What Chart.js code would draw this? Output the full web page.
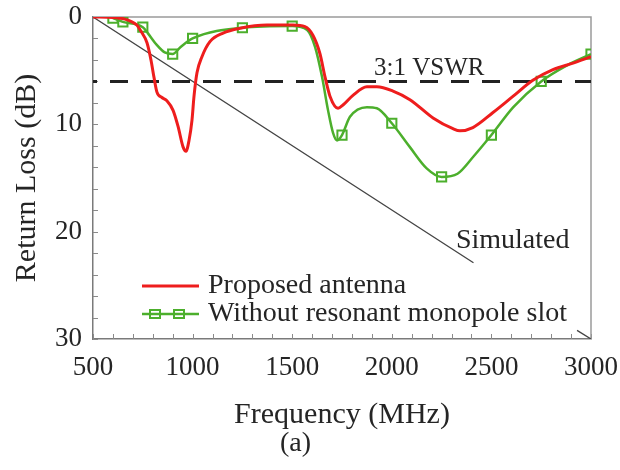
<!DOCTYPE html>
<html>
<head>
<meta charset="utf-8">
<script src="https://cdn.jsdelivr.net/npm/chart.js@4.4.1/dist/chart.umd.min.js"></script>
<style>
  html, body { margin: 0; padding: 0; background: #fff; }
  canvas { display: block; }
</style>
</head>
<body>
<canvas id="chart" width="620" height="470"></canvas>
<script>
// Data (frequency in MHz, return loss in dB)
const proposedFreq = [500, 600, 660, 690, 720, 740, 771, 791, 806, 821, 846, 871, 902, 927, 952, 967, 982, 997, 1007, 1022, 1047, 1087, 1153, 1238, 1373, 1504, 1564, 1604, 1639, 1665, 1690, 1730, 1755, 1805, 1875, 1925, 2006, 2091, 2207, 2307, 2342, 2407, 2508, 2608, 2708, 2809, 2910, 3000];
const proposedLoss = [0, 0.05, 0.2, 0.4, 0.75, 1.3, 2.4, 4.0, 5.6, 7.0, 7.5, 7.8, 8.7, 10.2, 12.1, 12.5, 11.5, 9.6, 7.4, 5.2, 3.7, 2.3, 1.5, 1.05, 0.75, 0.75, 0.9, 1.7, 3.4, 5.6, 7.4, 8.5, 8.2, 7.3, 6.5, 6.5, 6.9, 7.7, 9.4, 10.4, 10.6, 10.3, 8.9, 7.4, 5.9, 4.9, 4.3, 3.7];

const noSlotFreq = [600, 650, 750, 775, 820, 860, 900, 940, 1000, 1250, 1500, 1575, 1615, 1650, 1680, 1705, 1725, 1750, 1790, 1875, 1925, 2000, 2090, 2175, 2250, 2330, 2410, 2500, 2610, 2750, 2880, 3000];
const noSlotLoss = [0.1, 0.45, 0.95, 1.5, 2.6, 3.3, 3.45, 2.8, 2.0, 1.0, 0.85, 1.2, 2.8, 5.6, 8.7, 10.8, 11.5, 11.0, 9.3, 8.4, 8.5, 9.9, 12.1, 14.1, 14.9, 14.6, 13.0, 11.0, 8.4, 6.0, 4.5, 3.45];
const noSlotMarkerFreq = [600, 650, 750, 900, 1000, 1250, 1500, 1750, 2000, 2250, 2500, 2750, 3000];

// simulated reference line, partly hidden behind the legend
const simFreq = [500, 2410, 2670, 2930, 3000];
const simLoss = [0, 22.9, null, 29.2, 30];

const vswrFreq = [500, 3000];
const vswrLoss = [6, 6];

const xTickLabels = [500, 1000, 1500, 2000, 2500, 3000];
const yTickLabels = [0, 10, 20, 30];

const RED = '#ee1d1d';
const GREEN = '#4caf2c';
const INK = '#252525';
const FONT = '"Liberation Serif", "Times New Roman", serif';

const pts = (xs, ys) => xs.map((x, i) => ({ x: x, y: ys[i] }));

// Frame, inward ticks, labels and legend
const figurePlugin = {
    id: 'figure',
    beforeDatasetsDraw(chart) {
        const { ctx, chartArea: a, scales: { x, y } } = chart;
        ctx.save();
        ctx.strokeStyle = '#8a8a8a';
        ctx.lineWidth = 1;
        x.ticks.forEach(t => {
            const px = Math.round(x.getPixelForValue(t.value)) + 0.5;
            ctx.beginPath();
            ctx.moveTo(px, a.bottom);
            ctx.lineTo(px, a.bottom - 5);
            ctx.stroke();
        });
        y.ticks.forEach(t => {
            const py = Math.round(y.getPixelForValue(t.value)) + 0.5;
            ctx.beginPath();
            ctx.moveTo(a.left, py);
            ctx.lineTo(a.left + 5, py);
            ctx.stroke();
        });
        ctx.strokeStyle = '#9a9a9a';
        ctx.lineWidth = 1.5;
        ctx.beginPath();
        ctx.moveTo(a.left, a.top);
        ctx.lineTo(a.right, a.top);
        ctx.lineTo(a.right, a.bottom);
        ctx.stroke();
        ctx.restore();
    },
    afterDatasetsDraw(chart) {
        const { ctx, chartArea: a, scales: { x, y } } = chart;
        ctx.save();
        ctx.fillStyle = INK;
        ctx.textBaseline = 'middle';
        ctx.textAlign = 'left';

        ctx.font = '25px ' + FONT;
        ctx.fillText('3:1 VSWR', x.getPixelForValue(1911), y.getPixelForValue(4.75));
        ctx.font = '28px ' + FONT;
        ctx.fillText('Simulated', x.getPixelForValue(2322), y.getPixelForValue(20.8));

        // legend
        const lx0 = a.left + 49, lx1 = a.left + 106, tx = a.left + 115;
        const ry = a.top + 269, gy = a.top + 297;
        ctx.lineWidth = 3;
        ctx.strokeStyle = RED;
        ctx.beginPath(); ctx.moveTo(lx0, ry); ctx.lineTo(lx1, ry); ctx.stroke();
        ctx.strokeStyle = GREEN;
        ctx.lineWidth = 2.5;
        ctx.beginPath(); ctx.moveTo(lx0, gy); ctx.lineTo(lx1, gy); ctx.stroke();
        ctx.lineWidth = 2;
        [a.left + 62, a.left + 86].forEach(cx => ctx.strokeRect(cx - 5, gy - 4, 10, 8));
        ctx.fillText('Proposed antenna', tx, ry);
        ctx.fillText('Without resonant monopole slot', tx, gy);
        ctx.restore();
    }
};

const chart = new Chart(document.getElementById('chart').getContext('2d'), {
    type: 'line',
    data: {
        datasets: [{
            label: 'Proposed antenna',
            data: pts(proposedFreq, proposedLoss),
            borderColor: RED,
            borderWidth: 3,
            pointRadius: 0,
            cubicInterpolationMode: 'monotone'
        }, {
            label: 'Without resonant monopole slot',
            data: pts(noSlotFreq, noSlotLoss),
            borderColor: GREEN,
            borderWidth: 2.5,
            pointStyle: 'rect',
            pointRadius: ctx => noSlotMarkerFreq.includes(ctx.raw.x) ? 6.5 : 0,
            pointBorderWidth: 2,
            pointBorderColor: GREEN,
            pointBackgroundColor: 'rgba(255,255,255,0)',
            cubicInterpolationMode: 'monotone'
        }, {
            label: '3:1 VSWR',
            data: pts(vswrFreq, vswrLoss),
            borderColor: '#222',
            borderWidth: 3,
            borderDash: [18, 13],
            borderDashOffset: 14,
            pointRadius: 0
        }, {
            label: 'Simulated',
            data: pts(simFreq, simLoss),
            borderColor: '#444',
            borderWidth: 1.3,
            pointRadius: 0,
            spanGaps: false
        }]
    },
    options: {
        responsive: false,
        animation: false,
        events: [],
        layout: { padding: { left: 0, right: 29, top: 17, bottom: 12 } },
        plugins: {
            legend: { display: false },
            tooltip: { enabled: false },
            subtitle: {
                display: true,
                position: 'bottom',
                text: '(a)',
                color: INK,
                font: { family: FONT, size: 28, weight: 'normal', lineHeight: 1 },
                padding: 0
            }
        },
        scales: {
            x: {
                type: 'linear',
                min: 500,
                max: 3000,
                afterFit: s => {
                    s.height = 91;
                    s.paddingLeft = 0;
                    s.paddingRight = 0;
                },
                grid: { display: false, drawTicks: false },
                border: { display: true, color: '#7a7a7a', width: 1.5 },
                ticks: {
                    stepSize: 100,
                    autoSkip: false,
                    maxRotation: 0,
                    padding: 13,
                    color: INK,
                    font: { family: FONT, size: 27 },
                    callback: v => xTickLabels.includes(v) ? String(v) : ''
                },
                title: {
                    display: true,
                    text: 'Frequency (MHz)',
                    color: INK,
                    font: { family: FONT, size: 30, lineHeight: 1 },
                    padding: { top: 0, bottom: 0 }
                }
            },
            y: {
                type: 'linear',
                reverse: true,
                min: 0,
                max: 30,
                afterFit: s => {
                    s.width = 93;
                    s.paddingTop = 0;
                    s.paddingBottom = 0;
                },
                grid: { display: false, drawTicks: false },
                border: { display: true, color: '#7a7a7a', width: 1.5 },
                ticks: {
                    stepSize: 2,
                    autoSkip: false,
                    padding: 11,
                    color: INK,
                    font: { family: FONT, size: 27 },
                    callback: v => yTickLabels.includes(v) ? String(v) : ''
                },
                title: {
                    display: true,
                    text: 'Return Loss (dB)',
                    color: INK,
                    font: { family: FONT, size: 30, lineHeight: 1.2 },
                    padding: { top: 9, bottom: 9 }
                }
            }
        }
    },
    plugins: [figurePlugin]
});
</script>
</body>
</html>
